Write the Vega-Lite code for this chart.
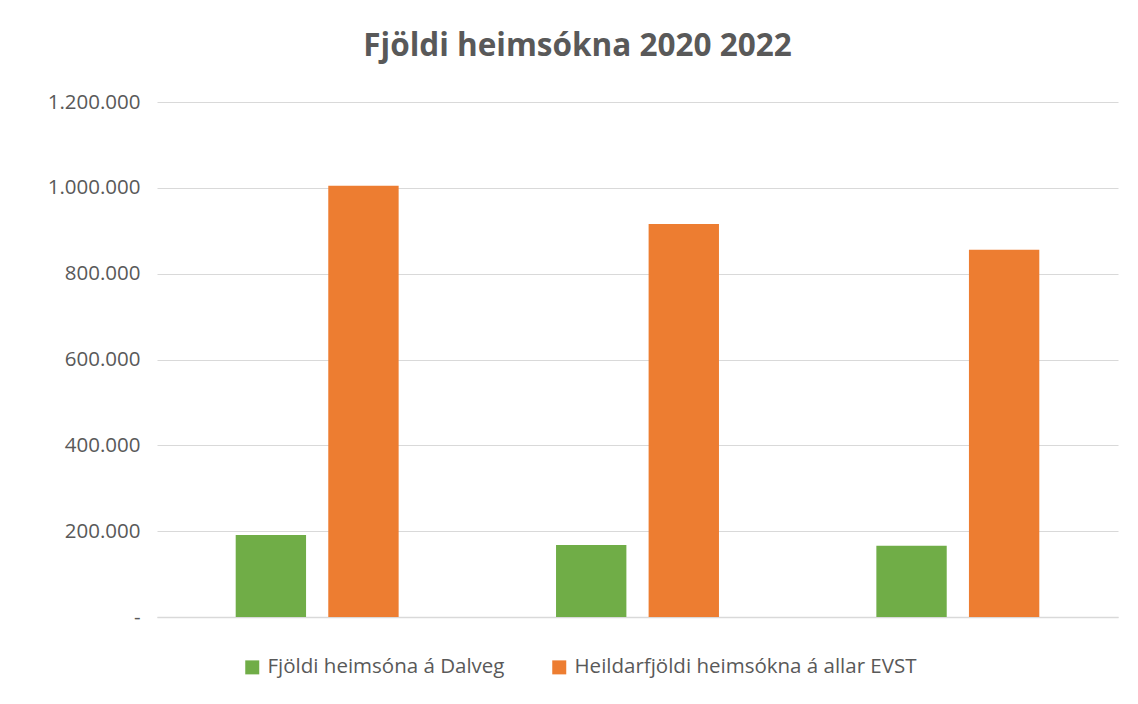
{
  "$schema": "https://vega.github.io/schema/vega-lite/v6.json",
  "width": 961,
  "height": 515,
  "autosize": {"type": "none"},
  "padding": {"left": 157, "top": 102, "right": 20, "bottom": 87},
  "background": "white",
  "title": {
    "text": "Fjöldi heimsókna 2020 2022",
    "font": "Open Sans",
    "fontSize": 31.5,
    "fontWeight": "bold",
    "color": "#595959",
    "anchor": "middle",
    "dx": -60,
    "offset": 30
  },
  "config": {
    "locale": {"number": {"decimal": ",", "thousands": ".", "grouping": [3], "currency": ["", ""]}},
    "view": {"stroke": null},
    "font": "Open Sans"
  },
  "data": {
    "values": [
      {"group": "2020", "series": "Fjöldi heimsóna á Dalveg", "value": 191000},
      {"group": "2020", "series": "Heildarfjöldi heimsókna á allar EVST", "value": 1005000},
      {"group": "2021", "series": "Fjöldi heimsóna á Dalveg", "value": 168000},
      {"group": "2021", "series": "Heildarfjöldi heimsókna á allar EVST", "value": 916000},
      {"group": "2022", "series": "Fjöldi heimsóna á Dalveg", "value": 166000},
      {"group": "2022", "series": "Heildarfjöldi heimsókna á allar EVST", "value": 856000}
    ]
  },
  "mark": {"type": "bar"},
  "encoding": {
    "x": {
      "field": "group",
      "type": "nominal",
      "scale": {"paddingInner": 0, "paddingOuter": 0},
      "axis": {"title": null, "labels": false, "ticks": false, "domain": true, "domainColor": "#d9d9d9", "domainWidth": 1.5}
    },
    "xOffset": {
      "field": "series",
      "type": "nominal",
      "scale": {"paddingInner": 0.24, "paddingOuter": 0.85}
    },
    "y": {
      "field": "value",
      "type": "quantitative",
      "scale": {"domain": [0, 1200000]},
      "axis": {
        "title": null,
        "values": [0, 200000, 400000, 600000, 800000, 1000000, 1200000],
        "format": ",d",
        "labelExpr": "datum.value == 0 ? '-' : datum.label",
        "labelFontSize": 20.5,
        "labelColor": "#595959",
        "labelPadding": 17,
        "ticks": false,
        "domain": false,
        "grid": true,
        "gridColor": "#d9d9d9",
        "gridWidth": 1
      }
    },
    "color": {
      "field": "series",
      "type": "nominal",
      "scale": {"domain": ["Fjöldi heimsóna á Dalveg", "Heildarfjöldi heimsókna á allar EVST"], "range": ["#70AD47", "#ED7D31"]},
      "legend": {
        "title": null,
        "orient": "none",
        "direction": "horizontal",
        "legendX": 85,
        "legendY": 555,
        "symbolType": "square",
        "symbolSize": 196,
        "symbolStrokeWidth": 0,
        "labelFontSize": 20.5,
        "labelColor": "#595959",
        "labelOffset": 5,
        "columnPadding": 44,
        "labelLimit": 500
      }
    }
  }
}
